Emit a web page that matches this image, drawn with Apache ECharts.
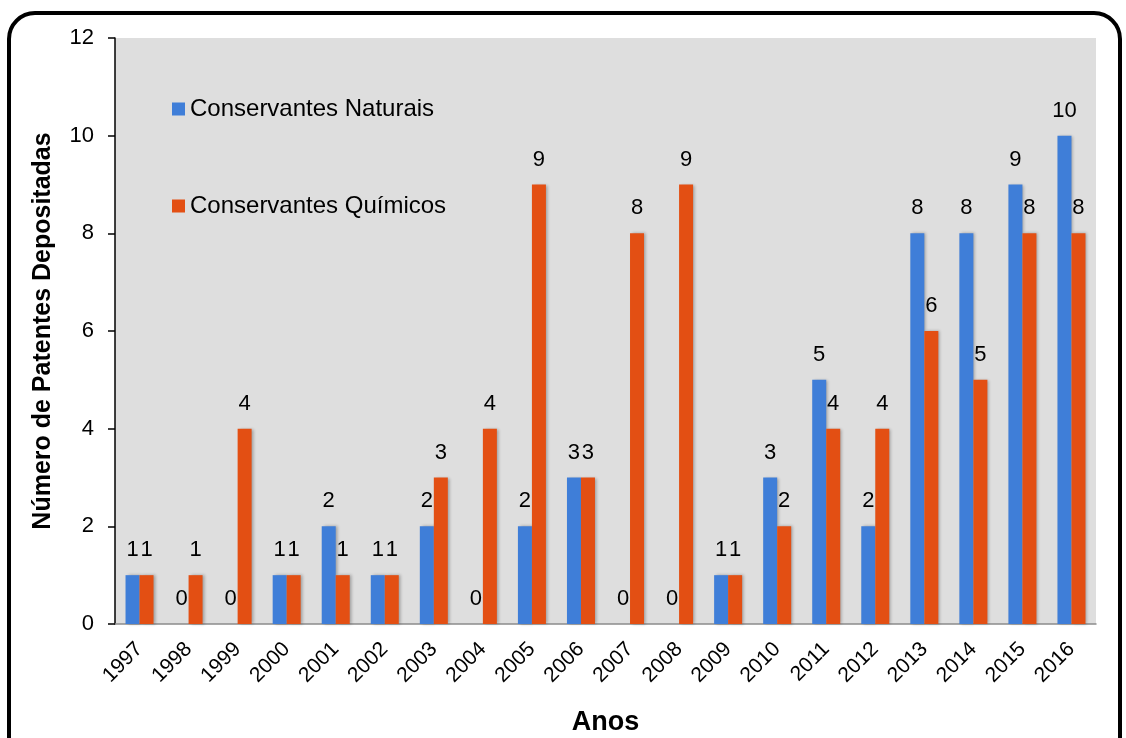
<!DOCTYPE html>
<html>
<head>
<meta charset="utf-8">
<script src="https://cdn.jsdelivr.net/npm/echarts@6/dist/echarts.min.js"></script>
<style>
  html, body { margin: 0; padding: 0; background: #fff; overflow: hidden; }
  #chart { width: 1126px; height: 738px; }
</style>
</head>
<body>
<div id="chart"></div>
<script>
// Patents filed per year, by preservative type
const years = ['1997','1998','1999','2000','2001','2002','2003','2004','2005','2006',
               '2007','2008','2009','2010','2011','2012','2013','2014','2015','2016'];
const naturais = [1, 0, 0, 1, 2, 1, 2, 0, 2, 3, 0, 0, 1, 3, 5, 2, 8, 8, 9, 10];
const quimicos = [1, 1, 4, 1, 1, 1, 3, 4, 9, 3, 8, 9, 1, 2, 4, 4, 6, 5, 8, 8];
const yTicks = { min: 0, max: 12, interval: 2 };

const FONT = '"Liberation Sans", Arial, sans-serif';

const barLabel = {
  show: true,
  position: 'top',
  distance: 14,
  color: '#000',
  fontSize: 22,
  fontFamily: FONT
};

const shadow = {
  shadowColor: 'rgba(0,0,0,0.28)',
  shadowBlur: 3,
  shadowOffsetX: 2,
  shadowOffsetY: 0
};

const chart = echarts.init(document.getElementById('chart'), null, { renderer: 'canvas' });

chart.setOption({
  animation: false,
  backgroundColor: '#fff',
  textStyle: { fontFamily: FONT },
  grid: {
    left: 115, top: 38, right: 30, bottom: 114,
    show: true, backgroundColor: '#dedede', borderWidth: 0,
    containLabel: false,
    outerBoundsMode: 'none'
  },
  legend: {
    orient: 'vertical',
    left: 172,
    top: 97,
    padding: 0,
    itemWidth: 13,
    itemHeight: 13,
    itemGap: 73,
    icon: 'rect',
    textStyle: { fontSize: 24, color: '#000', fontFamily: FONT },
    data: ['Conservantes Naturais', 'Conservantes Químicos']
  },
  xAxis: {
    type: 'category',
    data: years,
    name: 'Anos',
    nameLocation: 'middle',
    nameGap: 85,
    nameTextStyle: { fontSize: 27, fontWeight: 'bold', color: '#000', fontFamily: FONT },
    axisLine: { lineStyle: { color: '#8c8c8c', width: 1.5 } },
    axisTick: { alignWithLabel: true, length: 7, lineStyle: { color: '#8c8c8c', width: 1.5 } },
    axisLabel: { rotate: 45, fontSize: 21, color: '#000', margin: 22, fontFamily: FONT, interval: 0 }
  },
  yAxis: {
    type: 'value',
    min: yTicks.min,
    max: yTicks.max,
    interval: yTicks.interval,
    name: 'Número de Patentes Depositadas',
    nameLocation: 'middle',
    nameGap: 59,
    nameTextStyle: { fontSize: 25, fontWeight: 'bold', color: '#000', fontFamily: FONT },
    axisLine: { show: true, lineStyle: { color: '#000', width: 1.5 } },
    axisTick: { show: true, length: 7, lineStyle: { color: '#000', width: 1.5 } },
    axisLabel: { fontSize: 22, color: '#000', margin: 21, fontFamily: FONT },
    splitLine: { show: false }
  },
  series: [
    {
      name: 'Conservantes Naturais',
      type: 'bar',
      data: naturais,
      barWidth: 14,
      barGap: '0%',
      itemStyle: Object.assign({ color: '#3f7ed8' }, shadow),
      label: barLabel
    },
    {
      name: 'Conservantes Químicos',
      type: 'bar',
      data: quimicos,
      barWidth: 14,
      barGap: '0%',
      itemStyle: Object.assign({ color: '#e34f13' }, shadow),
      label: barLabel
    }
  ],
  graphic: [
    {
      type: 'rect',
      silent: true,
      shape: { x: 9, y: 13, width: 1111, height: 760, r: 26 },
      style: { fill: 'none', stroke: '#000', lineWidth: 4 },
      z: 100
    }
  ]
});
</script>
</body>
</html>
